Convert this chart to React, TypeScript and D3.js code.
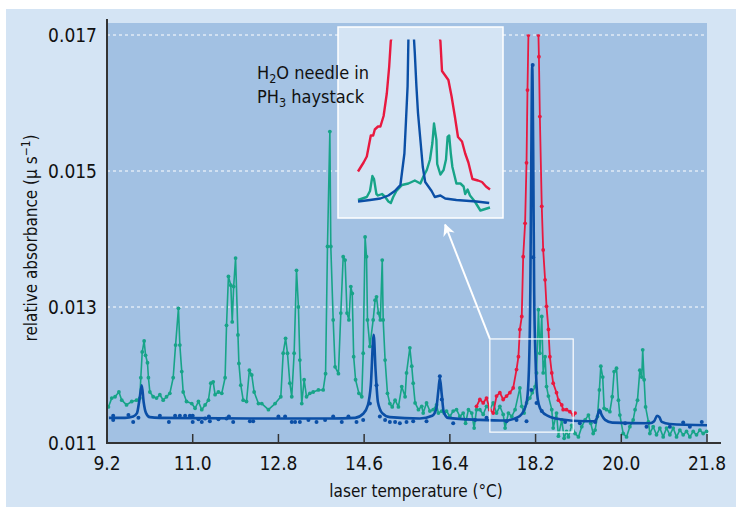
import React from "react";
import * as d3 from "d3";

// ---------- data ----------
const xTickValues = [9.2, 11.0, 12.8, 14.6, 16.4, 18.2, 20.0, 21.8];
const yTickValues = [0.011, 0.013, 0.015, 0.017];
const yGridValues = [0.013, 0.015, 0.017];

// PH3 spectrum (green): [temperature, absorbance]
const phosphine: [number, number][] = [
  [9.23, 0.01153], [9.30, 0.01166], [9.37, 0.01168], [9.45, 0.01175], [9.51, 0.01163],
  [9.61, 0.01156], [9.72, 0.01161], [9.82, 0.01163], [9.89, 0.01166], [9.91, 0.01196],
  [9.94, 0.01234], [9.98, 0.01250], [10.01, 0.01229], [10.05, 0.01218], [10.07, 0.01196],
  [10.10, 0.01175], [10.17, 0.01168], [10.24, 0.01166], [10.31, 0.01171], [10.38, 0.01163],
  [10.45, 0.01168], [10.52, 0.01173], [10.59, 0.01196], [10.64, 0.01244], [10.70, 0.01298],
  [10.73, 0.01244], [10.77, 0.01205], [10.80, 0.01175], [10.87, 0.01161], [10.98, 0.01158],
  [11.05, 0.01151], [11.12, 0.01161], [11.19, 0.01149], [11.26, 0.01156], [11.33, 0.01163],
  [11.38, 0.01188], [11.43, 0.01190], [11.47, 0.01171], [11.54, 0.01175], [11.61, 0.01173],
  [11.68, 0.01196], [11.71, 0.01273], [11.75, 0.01345], [11.80, 0.01332], [11.83, 0.01278],
  [11.86, 0.01330], [11.90, 0.01372], [11.95, 0.01259], [11.97, 0.01217], [12.01, 0.01185],
  [12.06, 0.01163], [12.13, 0.01161], [12.19, 0.01207], [12.24, 0.01200], [12.29, 0.01175],
  [12.38, 0.01158], [12.45, 0.01158], [12.59, 0.01149], [12.73, 0.01158], [12.85, 0.01168],
  [12.90, 0.01232], [12.95, 0.01254], [12.99, 0.01232], [13.04, 0.01188], [13.08, 0.01168],
  [13.13, 0.01232], [13.18, 0.01354], [13.22, 0.01300], [13.25, 0.01222], [13.29, 0.01158],
  [13.34, 0.01193], [13.39, 0.01168], [13.46, 0.01173], [13.53, 0.01175], [13.64, 0.01178],
  [13.74, 0.01178], [13.79, 0.01202], [13.83, 0.01389], [13.88, 0.01558], [13.90, 0.01389],
  [13.95, 0.01281], [13.99, 0.01212], [14.06, 0.01202], [14.11, 0.01291], [14.16, 0.01374],
  [14.20, 0.01369], [14.24, 0.01291], [14.28, 0.01281], [14.32, 0.01330], [14.35, 0.01320],
  [14.38, 0.01227], [14.42, 0.01193], [14.49, 0.01173], [14.55, 0.01168], [14.58, 0.01232],
  [14.62, 0.01403], [14.65, 0.01374], [14.67, 0.01281], [14.72, 0.01242], [14.79, 0.01281],
  [14.83, 0.01310], [14.86, 0.01315], [14.90, 0.01291], [14.94, 0.01281], [14.98, 0.01369],
  [15.00, 0.01281], [15.04, 0.01222], [15.09, 0.01173], [15.14, 0.01158], [15.19, 0.01153],
  [15.25, 0.01163], [15.32, 0.01153], [15.39, 0.01183], [15.46, 0.01168], [15.49, 0.01203],
  [15.56, 0.01240], [15.60, 0.01213], [15.63, 0.01188], [15.67, 0.01159], [15.74, 0.01149],
  [15.81, 0.01154], [15.84, 0.01144], [15.91, 0.01159], [15.98, 0.01147], [16.05, 0.01149],
  [16.12, 0.01156], [16.16, 0.01144], [16.23, 0.01147], [16.28, 0.01144], [16.33, 0.01147],
  [16.40, 0.01139], [16.47, 0.01147], [16.54, 0.01149], [16.61, 0.01139], [16.68, 0.01144],
  [16.73, 0.01129], [16.79, 0.01149], [16.86, 0.01144], [16.91, 0.01122], [16.96, 0.01149],
  [17.03, 0.01149], [17.10, 0.01142], [17.17, 0.01154], [17.24, 0.01149], [17.31, 0.01159],
  [17.38, 0.01144], [17.45, 0.01154], [17.52, 0.01142], [17.56, 0.01122], [17.63, 0.01144],
  [17.70, 0.01139], [17.77, 0.01149], [17.87, 0.01181], [17.91, 0.01154], [17.96, 0.01144],
  [18.01, 0.01159], [18.08, 0.01166], [18.13, 0.01174], [18.19, 0.01183], [18.22, 0.01203],
  [18.26, 0.01296], [18.29, 0.01232], [18.33, 0.01286], [18.36, 0.01203], [18.40, 0.01227],
  [18.43, 0.01183], [18.47, 0.01169], [18.54, 0.01149], [18.57, 0.01122], [18.64, 0.01144],
  [18.68, 0.01110], [18.75, 0.01134], [18.80, 0.01107], [18.85, 0.01117], [18.89, 0.01109],
  [18.96, 0.01126], [19.03, 0.01114], [19.10, 0.01109], [19.17, 0.01124], [19.24, 0.01134],
  [19.31, 0.01141], [19.36, 0.01129], [19.41, 0.01114], [19.45, 0.01119], [19.50, 0.01139],
  [19.54, 0.01178], [19.57, 0.01213], [19.61, 0.01197], [19.64, 0.01151], [19.69, 0.01149],
  [19.76, 0.01146], [19.81, 0.01168], [19.85, 0.01205], [19.90, 0.01210], [19.94, 0.01163],
  [19.97, 0.01141], [20.04, 0.01114], [20.11, 0.01109], [20.18, 0.01124], [20.25, 0.01134],
  [20.29, 0.01149], [20.34, 0.01163], [20.39, 0.01207], [20.43, 0.01197], [20.45, 0.01237],
  [20.48, 0.01193], [20.51, 0.01153], [20.57, 0.01131], [20.60, 0.01114], [20.67, 0.01124],
  [20.74, 0.01112], [20.81, 0.01122], [20.88, 0.01109], [20.95, 0.01122], [21.02, 0.01112],
  [21.09, 0.01122], [21.16, 0.01109], [21.23, 0.01119], [21.30, 0.01112], [21.37, 0.01117],
  [21.44, 0.01109], [21.51, 0.01117], [21.58, 0.01112], [21.65, 0.01119], [21.72, 0.01114],
  [21.79, 0.01117],
];

// H2O fit (blue line)
const waterFit: [number, number][] = [
  [9.24, 0.01137], [9.58, 0.01137], [9.75, 0.01139], [9.83, 0.01144], [9.88, 0.01163],
  [9.93, 0.01185], [9.97, 0.01160], [10.02, 0.01144], [10.10, 0.01138], [10.31, 0.01137],
  [12.20, 0.01136], [13.88, 0.01136], [14.41, 0.01137], [14.58, 0.01143], [14.68, 0.01156],
  [14.74, 0.01185], [14.80, 0.01259], [14.84, 0.01207], [14.89, 0.01160], [14.98, 0.01144],
  [15.14, 0.01138], [15.77, 0.01136], [16.03, 0.01140], [16.11, 0.01149], [16.16, 0.01178],
  [16.19, 0.01196], [16.23, 0.01171], [16.27, 0.01146], [16.36, 0.01137], [17.03, 0.01134],
  [17.56, 0.01133], [17.83, 0.01138], [17.96, 0.01149], [18.02, 0.01163], [18.06, 0.01207],
  [18.09, 0.01325], [18.11, 0.01516], [18.13, 0.01656], [18.15, 0.01531], [18.17, 0.01325],
  [18.20, 0.01222], [18.23, 0.01175], [18.27, 0.01156], [18.34, 0.01146], [18.46, 0.01140],
  [18.71, 0.01135], [19.24, 0.01132], [19.43, 0.01132], [19.49, 0.01137], [19.54, 0.01149],
  [19.59, 0.01141], [19.66, 0.01134], [19.81, 0.01130], [20.60, 0.01129], [20.69, 0.01132],
  [20.75, 0.01140], [20.80, 0.01138], [20.85, 0.01131], [21.02, 0.01128], [21.80, 0.01126],
];

// H2O measured points (blue dots)
const waterDots: [number, number][] = [
  [9.33, 0.01140], [9.33, 0.01134], [9.65, 0.01141], [9.75, 0.01131], [9.86, 0.01137],
  [10.31, 0.01140], [10.50, 0.01131], [10.63, 0.01140], [10.73, 0.01140], [10.84, 0.01140],
  [10.94, 0.01140], [11.00, 0.01140], [11.00, 0.01131], [11.12, 0.01135], [11.19, 0.01131],
  [11.26, 0.01136], [11.34, 0.01139], [11.36, 0.01132], [11.54, 0.01135], [11.71, 0.01136],
  [11.76, 0.01139], [11.85, 0.01131], [12.20, 0.01132], [12.27, 0.01132], [12.80, 0.01139],
  [12.94, 0.01139], [13.08, 0.01131], [13.15, 0.01131], [13.25, 0.01131], [13.43, 0.01134],
  [13.60, 0.01131], [13.78, 0.01134], [13.95, 0.01139], [14.13, 0.01131], [14.27, 0.01139],
  [14.44, 0.01131], [14.58, 0.01134], [14.72, 0.01158], [14.86, 0.01185], [14.93, 0.01139],
  [15.04, 0.01134], [15.14, 0.01131], [15.25, 0.01131], [15.35, 0.01129], [15.49, 0.01131],
  [15.63, 0.01132], [15.91, 0.01132], [16.19, 0.01198], [16.23, 0.01164], [16.47, 0.01129],
  [16.93, 0.01134], [17.17, 0.01137], [17.59, 0.01132], [17.80, 0.01134], [18.01, 0.01132],
  [18.11, 0.01178], [18.14, 0.01656], [18.15, 0.01373], [18.22, 0.01159], [18.33, 0.01147],
  [18.82, 0.01131], [19.13, 0.01129], [19.45, 0.01131], [19.55, 0.01146], [20.08, 0.01129],
  [20.53, 0.01124], [21.02, 0.01124], [21.30, 0.01130], [21.44, 0.01124], [21.69, 0.01131],
];

// H2O high-concentration trace (red)
const waterHigh: [number, number][] = [
  [16.96, 0.01154], [17.03, 0.01164], [17.10, 0.01159], [17.17, 0.01166], [17.24, 0.01149],
  [17.31, 0.01144], [17.38, 0.01169], [17.45, 0.01174], [17.52, 0.01164], [17.59, 0.01169],
  [17.66, 0.01174], [17.73, 0.01181], [17.80, 0.01208], [17.84, 0.01227], [17.87, 0.01267],
  [17.91, 0.01286], [17.94, 0.01374], [17.98, 0.01423], [18.01, 0.01512], [18.03, 0.01619],
  [18.05, 0.01700], [18.15, 0.01800], [18.26, 0.01700], [18.27, 0.01668], [18.29, 0.01580],
  [18.33, 0.01448], [18.36, 0.01384], [18.40, 0.01340], [18.43, 0.01301], [18.47, 0.01267],
  [18.50, 0.01227], [18.54, 0.01203], [18.57, 0.01188], [18.64, 0.01174], [18.68, 0.01163],
  [18.75, 0.01156], [18.78, 0.01149], [18.85, 0.01149], [18.92, 0.01146], [18.99, 0.01141],
  [19.03, 0.01144],
];

// inset (magnified view of the boxed region)
const insetRed: [number, number][] = [
  [17.45, 0.01151], [17.52, 0.01157], [17.56, 0.01161], [17.61, 0.01175], [17.64, 0.01175],
  [17.66, 0.01179], [17.70, 0.01181], [17.73, 0.01181], [17.77, 0.01188], [17.81, 0.01203],
  [17.84, 0.01221], [17.86, 0.01238], [18.17, 0.01300], [18.48, 0.01238], [18.50, 0.01218],
  [18.54, 0.01215], [18.58, 0.01212], [18.62, 0.01201], [18.66, 0.01188], [18.70, 0.01174],
  [18.75, 0.01171], [18.79, 0.01163], [18.83, 0.01157], [18.88, 0.01146], [18.95, 0.01145],
  [19.00, 0.01144], [19.05, 0.01141], [19.10, 0.01139],
];
const insetBlue: [number, number][] = [
  [17.45, 0.01131], [17.60, 0.01132], [17.73, 0.01133], [17.83, 0.01135], [17.91, 0.01138],
  [17.98, 0.01142], [18.03, 0.01163], [18.05, 0.01185], [18.07, 0.01208], [18.08, 0.01239],
  [18.115, 0.01300], [18.15, 0.01239], [18.16, 0.01230], [18.18, 0.01208], [18.20, 0.01190],
  [18.23, 0.01172], [18.26, 0.01154], [18.29, 0.01144], [18.33, 0.01141], [18.37, 0.01138],
  [18.41, 0.01134], [18.48, 0.01135], [18.54, 0.01133], [18.68, 0.01132], [18.93, 0.01131],
  [19.09, 0.01130],
];
const insetGreen: [number, number][] = [
  [17.45, 0.01132], [17.56, 0.01134], [17.60, 0.01138], [17.63, 0.01148], [17.65, 0.01146],
  [17.68, 0.01136], [17.70, 0.01135], [17.75, 0.01136], [17.79, 0.01134], [17.83, 0.01131],
  [17.86, 0.01130], [17.89, 0.01134], [17.93, 0.01138], [18.00, 0.01142], [18.08, 0.01143],
  [18.16, 0.01145], [18.23, 0.01143], [18.27, 0.01148], [18.31, 0.01152], [18.35, 0.01159],
  [18.38, 0.01170], [18.40, 0.01183], [18.43, 0.01172], [18.44, 0.01156], [18.48, 0.01149],
  [18.52, 0.01152], [18.55, 0.01159], [18.57, 0.01174], [18.59, 0.01175], [18.61, 0.01163],
  [18.63, 0.01154], [18.68, 0.01143], [18.73, 0.01143], [18.77, 0.01141], [18.79, 0.01136],
  [18.82, 0.01139], [18.85, 0.01135], [18.91, 0.01131], [18.98, 0.01125], [19.04, 0.01126],
  [19.10, 0.01127],
];

// zoom window shown in the inset, and arrow tip
const zoomWindowT = [17.24, 18.99];
const zoomWindowA = [0.01116, 0.01253];
const arrowTip: [number, number] = [16.30, 0.01421];

// ---------- style ----------
const FONT = '"DejaVu Sans Condensed", "DejaVu Sans", sans-serif';
const C_OUTER = "#d4e4f4";
const C_PLOT = "#a2c1e3";
const C_GREEN = "#17a488";
const C_BLUE = "#0b4fa6";
const C_RED = "#e8193f";
const C_AXIS = "#333333";

export default function App() {
  const W = 736, H = 507;
  const left = 107, right = 707, top = 23, bottom = 443;

  const x = d3.scaleLinear().domain([9.2, 21.8]).range([left, right]);
  const y = d3.scaleLinear().domain([0.011, 0.017]).range([bottom, 35]);

  const line = d3.line<[number, number]>().x(d => x(d[0])).y(d => y(d[1]));
  const smooth = d3.line<[number, number]>().x(d => x(d[0])).y(d => y(d[1])).curve(d3.curveMonotoneX);

  // inset
  const ib = { x0: 338, x1: 503, y0: 27, y1: 218 };
  const ix = d3.scaleLinear().domain([17.2, 19.2]).range([338, 498]);
  const iy = d3.scaleLinear().domain([0.0112, 0.0124]).range([218, 38]);
  const iline = d3.line<[number, number]>().x(d => ix(d[0])).y(d => iy(d[1]));

  const zx0 = x(zoomWindowT[0]), zx1 = x(zoomWindowT[1]);
  const zy0 = y(zoomWindowA[1]), zy1 = y(zoomWindowA[0]);

  return (
    <svg width={W} height={H} style={{ position: "absolute", left: 0, top: 0, background: "#fff" }} fontFamily={FONT}>
      <defs>
        <clipPath id="mainClip">
          <rect x={left} y={y(0.017) - 0.5} width={right - left} height={bottom - y(0.017) + 0.5} />
        </clipPath>
        <clipPath id="insetClip">
          <rect x={ib.x0} y={iy(0.01239)} width={ib.x1 - ib.x0} height={ib.y1 - iy(0.01239)} />
        </clipPath>
        <marker id="arrowHead" viewBox="0 0 10 10" refX="9" refY="5" markerWidth="6" markerHeight="6" orient="auto" markerUnits="strokeWidth">
          <path d="M0,0 L10,5 L0,10 L3,5 Z" fill="#fff" />
        </marker>
      </defs>

      <rect x={6} y={9} width={W - 6} height={H - 9} fill={C_OUTER} />
      <rect x={left} y={top} width={right - left} height={bottom - top} fill={C_PLOT} />

      {yGridValues.map(v => (
        <line key={v} x1={left} x2={right} y1={y(v)} y2={y(v)} stroke="#fff" strokeWidth={1} strokeDasharray="3,3" />
      ))}

      {/* green PH3 */}
      <path d={line(phosphine) || ""} fill="none" stroke={C_GREEN} strokeWidth={1.6} strokeLinejoin="round" />
      {phosphine.map((d, i) => (
        <circle key={"g" + i} cx={x(d[0])} cy={y(d[1])} r={1.9} fill={C_GREEN} />
      ))}

      {/* red */}
      <g clipPath="url(#mainClip)">
        <path d={line(waterHigh) || ""} fill="none" stroke={C_RED} strokeWidth={1.8} strokeLinejoin="round" />
        {waterHigh.map((d, i) => (
          <circle key={"r" + i} cx={x(d[0])} cy={y(d[1])} r={1.9} fill={C_RED} />
        ))}
      </g>

      {/* blue */}
      <path d={smooth(waterFit) || ""} fill="none" stroke={C_BLUE} strokeWidth={2.6} strokeLinejoin="round" />
      {waterDots.map((d, i) => (
        <circle key={"b" + i} cx={x(d[0])} cy={y(d[1])} r={2} fill={C_BLUE} />
      ))}

      {/* zoom window and arrow */}
      <rect x={zx0} y={zy0} width={zx1 - zx0} height={zy1 - zy0} fill="none" stroke="#fff" strokeWidth={1.2} />
      <line x1={zx0} y1={zy0} x2={x(arrowTip[0])} y2={y(arrowTip[1])} stroke="#fff" strokeWidth={2} markerEnd="url(#arrowHead)" />

      {/* inset */}
      <rect x={ib.x0} y={ib.y0} width={ib.x1 - ib.x0} height={ib.y1 - ib.y0} fill={C_OUTER} stroke="#fff" strokeWidth={1.5} />
      <g clipPath="url(#insetClip)">
        <path d={iline(insetRed) || ""} fill="none" stroke={C_RED} strokeWidth={2.4} strokeLinejoin="round" />
        <path d={iline(insetGreen) || ""} fill="none" stroke={C_GREEN} strokeWidth={2.4} strokeLinejoin="round" />
        <path d={iline(insetBlue) || ""} fill="none" stroke={C_BLUE} strokeWidth={2.4} strokeLinejoin="round" />
      </g>

      <text x={257} y={79} fontSize={18} fill="#111">
        H<tspan fontSize={12.5} dy={4}>2</tspan><tspan dy={-4}>O needle in</tspan>
      </text>
      <text x={257} y={103} fontSize={18} fill="#111">
        PH<tspan fontSize={12.5} dy={4}>3</tspan><tspan dy={-4}> haystack</tspan>
      </text>

      {/* axes */}
      <line x1={left} x2={left} y1={19} y2={bottom + 1} stroke={C_AXIS} strokeWidth={2} />
      <line x1={left - 1} x2={721} y1={bottom} y2={bottom} stroke={C_AXIS} strokeWidth={2} />
      {xTickValues.map(v => (
        <g key={v}>
          <line x1={x(v)} x2={x(v)} y1={bottom} y2={bottom - 9} stroke={C_AXIS} strokeWidth={1.5} />
          <text x={x(v)} y={470} fontSize={19} textAnchor="middle" fill="#111">{v.toFixed(1)}</text>
        </g>
      ))}
      {yTickValues.map(v => (
        <text key={v} x={97} y={y(v)} dy="0.36em" fontSize={19} textAnchor="end" fill="#111">{v.toFixed(3)}</text>
      ))}

      <text x={416} y={497} fontSize={17} textAnchor="middle" fill="#111">laser temperature (°C)</text>
      <text transform={`translate(37, 238) rotate(-90)`} fontSize={17} textAnchor="middle" fill="#111">
        relative absorbance (μ s<tspan fontSize={12} dy={-7}>−1</tspan><tspan dy={7}>)</tspan>
      </text>
    </svg>
  );
}
